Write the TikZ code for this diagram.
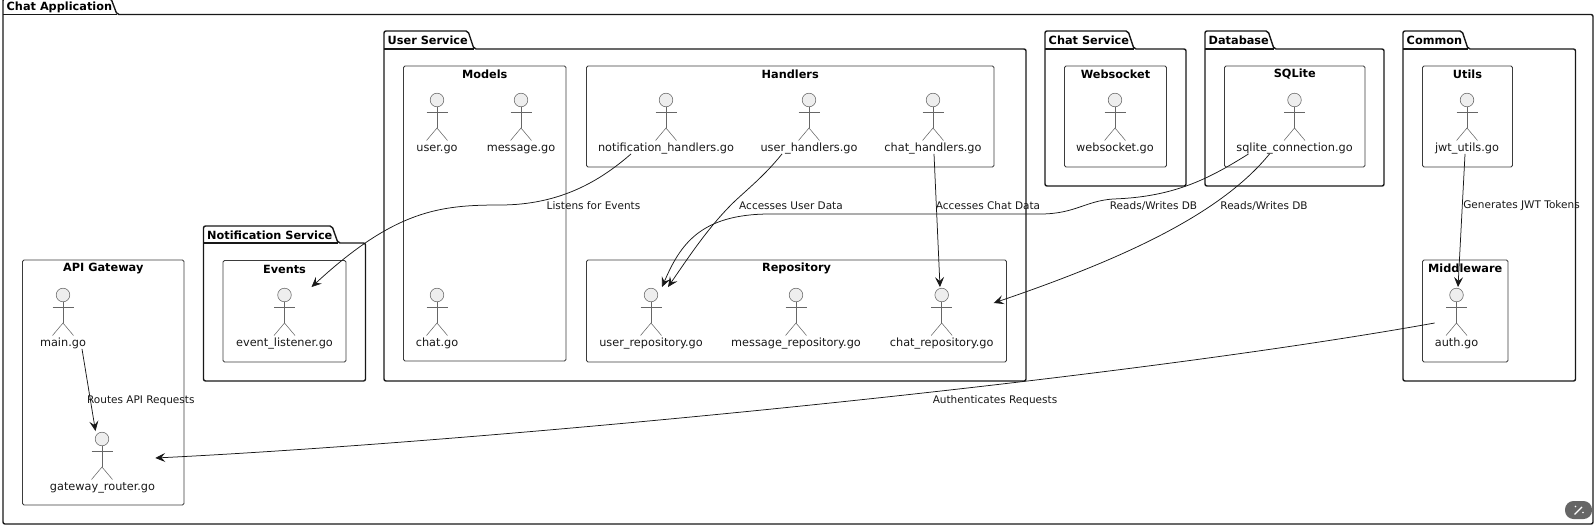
\documentclass[tikz,border=0pt]{standalone}
\usepackage{fontspec}
\setmainfont{DejaVu Sans}
\usetikzlibrary{arrows.meta}
\definecolor{inkdark}{HTML}{181818}
\definecolor{headgray}{HTML}{EEEEEE}
\definecolor{stickgray}{HTML}{666666}
\definecolor{badgegray}{HTML}{666666}
\tikzset{
  x=1pt, y=-1pt,
  packageframe/.style={draw=inkdark, line width=1.4pt, rounded corners=2pt},
  groupframe/.style={draw=inkdark!85!white, line width=0.9pt, rounded corners=1.5pt},
  grouptitle/.style={font=\fontsize{11.3}{14}\selectfont\bfseries, text=black, inner sep=0pt},
  actorbox/.style={font=\fontsize{11.3}{14}\selectfont, text=inkdark, inner sep=0pt, text height=59pt, text depth=2.5pt},
  stick/.style={draw=stickgray, line width=0.55pt},
  conn/.style={draw=inkdark, line width=0.75pt, -{Stealth[length=10pt,width=9pt,inset=4pt]}},
  connlabel/.style={font=\fontsize{10.5}{13}\selectfont, text=inkdark, inner sep=0pt},
}
\newcommand{\packagebox}[8]{% name, x1, ytop, tab right, yline, x2, y2, title
  \draw[packageframe] (#2,#7) -- (#2,#3) -- (#4,#3) -- (#4+6,#5) -- (#6,#5) -- (#6,#7) -- cycle;
  \draw[packageframe] (#2,#5) -- (#4+6,#5);
  \node[grouptitle, anchor=west] (#1) at (#2+3.5,#3+9) {#8};
}
\newcommand{\groupbox}[6]{% name, x1, y1, x2, y2, title
  \draw[groupframe] (#2,#3) rectangle (#4,#5);
  \node[grouptitle] (#1) at ({(#2+#4)/2},#3+8.5) {#6};
}
\newcommand{\actorgo}[5]{% name, x, head y, label x, label
  \node[actorbox] (#1) at (#4,#3+23) {#5};
  \draw[stick, fill=headgray] (#2,#3) circle [radius=6.8];
  \draw[stick] (#2-10.5,#3+12.5) -- (#2+10.5,#3+12.5);
  \draw[stick] (#2,#3+6.8) -- (#2,#3+28);
  \draw[stick] (#2-10.5,#3+40.5) -- (#2,#3+28) -- (#2+10.5,#3+40.5);
}
\begin{document}
\begin{tikzpicture}
  \useasboundingbox (0,0) rectangle (1594,525);
  \packagebox{chatapp}{3}{-1.5}{111}{14.5}{1593}{524}{Chat Application}
  \packagebox{userservice}{384}{31}{468}{49}{1026}{381}{User Service}
  \packagebox{chatservice}{1045}{31}{1128}{49}{1186}{186}{Chat Service}
  \packagebox{database}{1205}{31}{1268}{49}{1384}{186}{Database}
  \packagebox{common}{1403}{31}{1462}{49}{1575.5}{381}{Common}
  \packagebox{notifservice}{203.5}{226}{332}{243}{365.5}{381}{Notification Service}
  \groupbox{models}{403.5}{66}{566}{361}{Models}
  \groupbox{handlers}{586.5}{66}{994}{167}{Handlers}
  \groupbox{repository}{586.5}{260}{1006.5}{362}{Repository}
  \groupbox{websocket}{1064.5}{66}{1166.5}{167}{Websocket}
  \groupbox{sqlite}{1224.5}{66}{1365}{167}{SQLite}
  \groupbox{utils}{1422.5}{66}{1512.5}{167}{Utils}
  \groupbox{middleware}{1422.5}{260}{1508}{362}{Middleware}
  \groupbox{events}{223}{260.5}{346}{362}{Events}
  \groupbox{apigateway}{22.5}{260}{184}{505}{API Gateway}
  \actorgo{usergo}{437}{100}{437}{user.go}
  \actorgo{messagego}{521}{100}{521}{message.go}
  \actorgo{chatgo}{437}{295}{437}{chat.go}
  \actorgo{notifhandlers}{666}{100}{666}{notification\_handlers.go}
  \actorgo{userhandlers}{809}{100}{809}{user\_handlers.go}
  \actorgo{chathandlers}{933}{100}{933}{chat\_handlers.go}
  \actorgo{userrepo}{651}{295}{651}{user\_repository.go}
  \actorgo{messagerepo}{796}{295}{796}{message\_repository.go}
  \actorgo{chatrepo}{941.7}{295}{941.7}{chat\_repository.go}
  \actorgo{websocketgo}{1115}{100}{1115}{websocket.go}
  \actorgo{sqliteconn}{1294.5}{100}{1294.5}{sqlite\_connection.go}
  \actorgo{jwtutils}{1467}{100}{1467}{jwt\_utils.go}
  \actorgo{authgo}{1456.5}{295}{1456.5}{auth.go}
  \actorgo{eventlistener}{284.5}{295}{284.5}{event\_listener.go}
  \actorgo{maingo}{63}{295}{63}{main.go}
  \actorgo{gatewayrouter}{102}{439}{102.5}{gateway\_router.go}
  \draw[conn] ([xshift=19pt]maingo.south) -- ([xshift=-7pt]gatewayrouter.north);
  \draw[conn] ([xshift=-35pt]notifhandlers.south) .. controls (600,181) and (560,205) .. (500,205) .. controls (440,205) and (395,210) .. ([xshift=27pt]eventlistener.north);
  \draw[conn] ([xshift=-27pt]userhandlers.south) .. controls (765,175) and (750,187) .. (735,201) .. controls (710,225) and (690,255) .. ([xshift=17pt]userrepo.north);
  \draw[conn] ([xshift=1pt]chathandlers.south) -- ([xshift=-1.7pt]chatrepo.north);
  \draw[conn] ([xshift=-46pt]sqliteconn.south) .. controls (1210,178) and (1175,197) .. (1113,199) .. controls (1085,201) and (1075,214) .. (1040,214) -- (770,214) .. controls (700,214) and (680,245) .. ([xshift=11pt]userrepo.north);
  \draw[conn] ([xshift=-25pt]sqliteconn.south) .. controls (1220,215) and (1120,260) .. ([yshift=15pt]chatrepo.east);
  \draw[conn] ([xshift=-2pt]jwtutils.south) -- ([xshift=1.5pt]authgo.north);
  \draw[conn] ([yshift=-5pt]authgo.west) .. controls (1100,383) and (480,442) .. ([yshift=4pt]gatewayrouter.east);
  \node[connlabel] (routeslabel) at (140.8,401) {Routes API Requests};
  \node[connlabel] (listenslabel) at (593.5,206) {Listens for Events};
  \node[connlabel] (userdatalabel) at (791,206) {Accesses User Data};
  \node[connlabel] (chatdatalabel) at (988,206) {Accesses Chat Data};
  \node[connlabel] (readsonelabel) at (1153.5,206) {Reads/Writes DB};
  \node[connlabel] (readstwolabel) at (1264,206) {Reads/Writes DB};
  \node[connlabel] (jwtlabel) at (1521.5,206) {Generates JWT Tokens};
  \node[connlabel] (authlabel) at (995,401) {Authenticates Requests};
  \fill[badgegray, rounded corners=8.5pt] (1565,501) rectangle (1592,519);
  \draw[white, line width=1.2pt] (1574.5,514.5) -- (1582,507);
  \fill[white] (1575.5,506.5) circle [radius=0.9];
  \fill[white] (1583,512.5) circle [radius=0.9];
\end{tikzpicture}
\end{document}
